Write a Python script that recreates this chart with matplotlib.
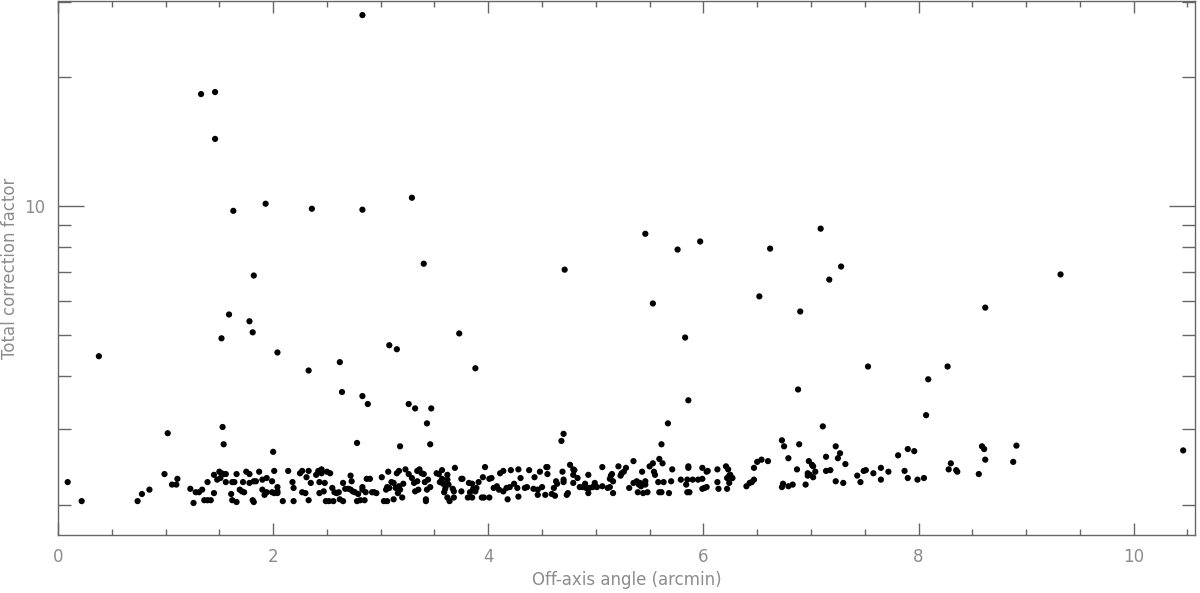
import matplotlib
matplotlib.use("Agg")
import matplotlib.pyplot as plt
from matplotlib.ticker import FixedLocator, MultipleLocator, NullFormatter

# sources well above the main band
angle_high = [2.83, 1.33, 1.46, 1.46, 1.63, 1.93, 2.36, 2.83, 3.29, 5.46, 5.76, 5.97,
              6.62, 7.09, 3.40, 4.71, 7.28, 7.17, 9.32, 1.82, 6.52, 5.53, 6.90, 8.62,
              1.59, 1.78, 1.81, 1.52, 3.73, 5.83, 0.38, 2.04, 3.08, 3.15, 2.62, 2.33,
              3.88, 7.53, 8.27, 8.09, 6.88, 2.64, 2.83, 2.88, 3.26, 3.32, 3.47, 5.86,
              8.07, 1.53, 1.02, 1.54, 2.00, 3.43, 2.78, 3.18, 3.46, 4.70, 4.68, 5.61,
              5.67, 7.11, 6.73, 6.75, 6.89, 7.23, 7.27, 7.81, 7.90, 7.96, 8.59, 8.61,
              8.91, 10.46]
factor_high = [27.9, 18.24, 18.44, 14.33, 9.73, 10.11, 9.84, 9.79, 10.44, 8.60, 7.90, 8.25,
               7.94, 8.84, 7.32, 7.09, 7.21, 6.72, 6.91, 6.87, 6.14, 5.91, 5.66, 5.78,
               5.57, 5.37, 5.06, 4.90, 5.03, 4.92, 4.45, 4.54, 4.72, 4.62, 4.31, 4.12,
               4.17, 4.21, 4.21, 3.93, 3.72, 3.67, 3.59, 3.44, 3.44, 3.36, 3.36, 3.51,
               3.24, 3.04, 2.94, 2.77, 2.66, 3.10, 2.79, 2.74, 2.77, 2.93, 2.82, 2.77,
               3.10, 3.05, 2.83, 2.74, 2.77, 2.74, 2.64, 2.61, 2.70, 2.67, 2.74, 2.70,
               2.75, 2.68]

# the dense band of sources between ~2.0 and ~2.6
angle_band = [
    0.09, 0.22, 0.74, 0.78, 0.85, 0.99, 1.06, 1.10, 1.11, 1.23, 1.26, 1.28, 1.31, 1.34,
    1.36, 1.39, 1.42, 1.39, 1.45, 1.45, 1.48, 1.50, 1.52, 1.51, 1.54, 1.56, 1.56, 1.61,
    1.62, 1.64, 1.62, 1.66, 1.66, 1.69, 1.71, 1.73, 1.72, 1.75, 1.78, 1.78, 1.81, 1.82,
    1.82, 1.84, 1.87, 1.90, 1.90, 1.92, 1.94, 1.94, 1.99, 1.99, 2.01, 2.04, 2.04, 2.04,
    2.01, 2.09, 2.14, 2.18, 2.19, 2.19,
    2.25, 2.27, 2.27, 2.30, 2.31, 2.33, 2.33, 2.35, 2.40, 2.42, 2.45, 2.43, 2.43, 2.45,
    2.47, 2.48, 2.49, 2.52, 2.56, 2.50, 2.53, 2.55, 2.57, 2.59, 2.61, 2.62, 2.65, 2.65,
    2.67, 2.70, 2.72, 2.74, 2.72, 2.73, 2.76, 2.78, 2.81, 2.85, 2.79, 2.83, 2.83, 2.86,
    2.87, 2.90, 2.92, 2.94, 2.96, 3.01, 3.03, 3.06, 3.05, 3.06, 3.08, 3.07, 3.10, 3.12,
    3.14, 3.16, 3.18, 3.17, 3.15, 3.17, 3.12, 3.20, 3.21, 3.23, 3.26, 3.29, 3.31, 3.34,
    3.32, 3.35, 3.34, 3.36, 3.38, 3.40, 3.41, 3.42, 3.42, 3.43, 3.46, 3.44, 3.52, 3.54,
    3.55, 3.57, 3.58, 3.57, 3.59, 3.60, 3.62, 3.63, 3.62, 3.62, 3.64, 3.68, 3.67, 3.68,
    3.69, 3.75, 3.76, 3.75, 3.81, 3.83, 3.85, 3.82, 3.85, 3.86, 3.88, 3.89, 3.91, 3.94,
    3.96, 4.01, 3.95, 3.97, 4.01, 4.03, 4.05, 4.08, 4.10, 4.11, 4.14, 4.14, 4.17, 4.20,
    4.18, 4.21, 4.24, 4.27, 4.28, 4.30, 4.28, 4.34, 4.36, 4.38,
    4.42, 4.46, 4.50, 4.43, 4.48, 4.46, 4.53, 4.54, 4.55, 4.55, 4.59, 4.62, 4.61, 4.63,
    4.64, 4.69, 4.70, 4.70, 4.73, 4.74, 4.76, 4.79, 4.79, 4.80, 4.79, 4.83, 4.85, 4.88,
    4.91, 4.93, 4.94, 4.90, 4.93, 4.99, 4.97, 5.01, 5.06, 5.06, 5.11, 5.13, 5.16, 5.14,
    5.15, 5.13, 5.16, 5.21, 5.23, 5.24, 5.26, 5.28, 5.31, 5.35, 5.35, 5.38, 5.40, 5.41,
    5.39, 5.44, 5.48, 5.43, 5.42, 5.46, 5.46, 5.50, 5.53, 5.54, 5.55, 5.58, 5.59, 5.62,
    5.59, 5.61, 5.63, 5.68, 5.70, 5.71, 5.79, 5.85, 5.84, 5.86, 5.86, 5.85, 5.87, 5.90,
    5.95, 5.99, 5.99, 6.01, 6.03, 5.99, 6.03, 6.04, 6.13, 6.13, 6.14, 6.22, 6.21, 6.23,
    6.22, 6.24, 6.25, 6.27, 6.24, 6.40, 6.43, 6.45, 6.47, 6.47, 6.50, 6.54,
    6.60, 6.79, 6.87, 6.73, 6.74, 6.79, 6.83, 6.95, 6.98, 7.01, 7.02, 6.97, 6.99, 6.97,
    7.02, 7.04, 7.14, 7.14, 7.18, 7.25, 7.23, 7.30, 7.32, 7.43, 7.46, 7.49, 7.51, 7.58,
    7.65, 7.65, 7.72, 7.87, 7.90, 7.99, 8.05, 8.28, 8.30, 8.35, 8.36, 8.56, 8.62, 8.88]
factor_band = [
    2.26, 2.04, 2.04, 2.12, 2.17, 2.36, 2.23, 2.23, 2.30, 2.18, 2.02, 2.14, 2.14, 2.17,
    2.05, 2.05, 2.05, 2.26, 2.35, 2.13, 2.29, 2.39, 2.37, 2.31, 2.36, 2.36, 2.26, 2.12,
    2.26, 2.26, 2.05, 2.03, 2.36, 2.17, 2.15, 2.14, 2.26, 2.39, 2.36, 2.25, 2.05, 2.03,
    2.27, 2.27, 2.39, 2.29, 2.17, 2.11, 2.14, 2.31, 2.27, 2.14, 2.13, 2.13, 2.15, 2.20,
    2.40, 2.04, 2.40, 2.26, 2.19, 2.04,
    2.37, 2.40, 2.14, 2.13, 2.32, 2.40, 2.05, 2.25, 2.35, 2.40, 2.42, 2.26, 2.13, 2.37,
    2.15, 2.25, 2.04, 2.04, 2.04, 2.39, 2.37, 2.19, 2.14, 2.13, 2.14, 2.06, 2.04, 2.25,
    2.18, 2.18, 2.17, 2.15, 2.34, 2.27, 2.14, 2.04, 2.05, 2.05, 2.12, 2.17, 2.20, 2.14,
    2.30, 2.30, 2.14, 2.14, 2.13, 2.32, 2.04, 2.04, 2.17, 2.20, 2.19, 2.39, 2.26, 2.25,
    2.19, 2.13, 2.17, 2.21, 2.37, 2.40, 2.06, 2.08, 2.24, 2.42, 2.36, 2.31, 2.25, 2.27,
    2.15, 2.17, 2.40, 2.42, 2.37, 2.36, 2.26, 2.06, 2.04, 2.17, 2.20, 2.29, 2.37, 2.36,
    2.26, 2.30, 2.24, 2.41, 2.14, 2.18, 2.29, 2.23, 2.35, 2.08, 2.04, 2.08, 2.18, 2.15,
    2.44, 2.30, 2.30, 2.15, 2.08, 2.14, 2.08, 2.25, 2.24, 2.18, 2.15, 2.19, 2.26, 2.08,
    2.08, 2.08, 2.32, 2.45, 2.30, 2.31, 2.19, 2.21, 2.17, 2.37, 2.40, 2.15, 2.19, 2.20,
    2.06, 2.41, 2.24, 2.19, 2.09, 2.31, 2.42, 2.19, 2.20, 2.41,
    2.18, 2.17, 2.20, 2.32, 2.39, 2.11, 2.11, 2.45, 2.45, 2.36, 2.12, 2.10, 2.19, 2.27,
    2.24, 2.39, 2.26, 2.29, 2.11, 2.13, 2.48, 2.42, 2.35, 2.41, 2.25, 2.31, 2.20, 2.20,
    2.19, 2.13, 2.19, 2.24, 2.35, 2.25, 2.20, 2.20, 2.45, 2.21, 2.19, 2.20, 2.13, 2.34,
    2.36, 2.30, 2.27, 2.46, 2.34, 2.37, 2.39, 2.44, 2.19, 2.53, 2.25, 2.27, 2.23, 2.25,
    2.14, 2.13, 2.14, 2.39, 2.21, 2.23, 2.27, 2.46, 2.50, 2.39, 2.35, 2.26, 2.56, 2.50,
    2.14, 2.14, 2.26, 2.13, 2.27, 2.42, 2.29, 2.29, 2.23, 2.44, 2.46, 2.14, 2.14, 2.29,
    2.29, 2.30, 2.18, 2.19, 2.20, 2.44, 2.39, 2.40, 2.26, 2.42, 2.18, 2.18, 2.46, 2.42,
    2.31, 2.34, 2.35, 2.31, 2.25, 2.21, 2.25, 2.26, 2.29, 2.44, 2.52, 2.55,
    2.53, 2.57, 2.42, 2.20, 2.24, 2.21, 2.23, 2.23, 2.53, 2.48, 2.46, 2.37, 2.35, 2.34,
    2.32, 2.39, 2.59, 2.40, 2.41, 2.57, 2.27, 2.25, 2.49, 2.34, 2.26, 2.40, 2.41, 2.37,
    2.44, 2.29, 2.39, 2.40, 2.31, 2.29, 2.31, 2.42, 2.50, 2.41, 2.39, 2.36, 2.55, 2.52]

axis_col = "#666666"
text_col = "#8c8c8c"

fig = plt.figure(figsize=(12, 5.93), dpi=100)
ax = fig.add_axes([58 / 1200, 1 - 535 / 593, 1137 / 1200, 534 / 593])

ax.scatter(angle_band + angle_high, factor_band + factor_high, s=20, c="black",
           edgecolors="none", zorder=3)

ax.set_yscale("log")
ax.set_xlim(0, 10.57)
ax.set_ylim(1.70, 30.1)

ax.xaxis.set_major_locator(MultipleLocator(2))
ax.xaxis.set_minor_locator(MultipleLocator(0.5))
ax.yaxis.set_major_locator(FixedLocator([10]))
ax.yaxis.set_minor_locator(FixedLocator([2, 3, 4, 5, 6, 7, 8, 9, 20, 30]))
ax.yaxis.set_major_formatter(plt.FuncFormatter(lambda v, p: "%d" % v))
ax.yaxis.set_minor_formatter(NullFormatter())

for s in ax.spines.values():
    s.set_color(axis_col)
    s.set_linewidth(1.0)

ax.tick_params(axis="both", which="both", direction="in", top=True, right=True,
               colors=axis_col, labelcolor=text_col, labelsize=12, width=1.0)
ax.tick_params(axis="x", which="major", length=8.5, pad=9)
ax.tick_params(axis="x", which="minor", length=4.5)
ax.tick_params(axis="y", which="major", length=19, pad=9)
ax.tick_params(axis="y", which="minor", length=9.5)

ax.set_xlabel("Off-axis angle (arcmin)", color=text_col, fontsize=12, labelpad=4)
ax.set_ylabel("Total correction factor", color=text_col, fontsize=12, labelpad=4)

fig.savefig("out.png", dpi=100)
